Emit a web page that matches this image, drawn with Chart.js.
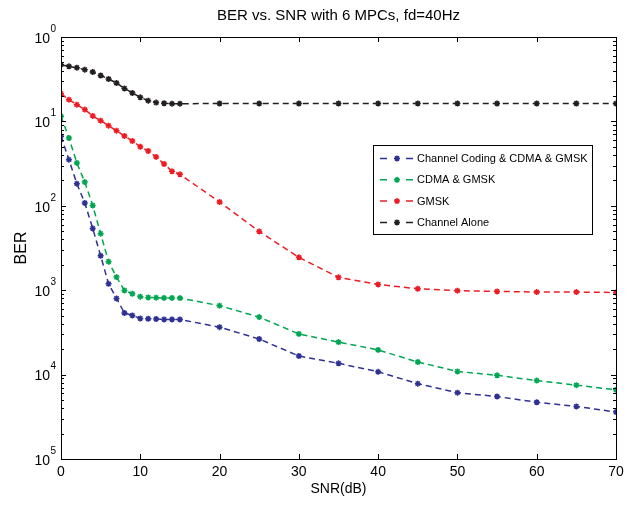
<!DOCTYPE html>
<html>
<head>
<meta charset="utf-8">
<script src="https://cdn.jsdelivr.net/npm/chart.js@4.4.0/dist/chart.umd.min.js"></script>
<style>
  html, body { margin: 0; padding: 0; background: #fff; }
  #caixa { width: 633px; height: 510px; }
</style>
</head>
<body>
<div id="caixa"><canvas id="grafico"></canvas></div>
<script>
// Dados (SNR em dB, BER)
const snr = [0, 1, 2, 3, 4, 5, 6, 7, 8, 9, 10, 11, 12, 13, 14, 15, 20, 25, 30, 35, 40, 45, 50, 55, 60, 65, 70];
const berCodCdmaGmsk = [0.0665, 0.0352, 0.0183, 0.0108, 0.0054, 0.00256, 0.00119, 0.0008, 0.000537, 0.000503, 0.000463, 0.000459, 0.000456, 0.000451, 0.00045, 0.00045,
  0.000365, 0.000264, 0.000166, 0.000136, 0.000108, 7.8e-5, 6.1e-5, 5.5e-5, 4.7e-5, 4.2e-5, 3.6e-5];
const berCdmaGmsk = [0.115, 0.0636, 0.0322, 0.0191, 0.0101, 0.00467, 0.00218, 0.00143, 0.000995, 0.000908, 0.000838, 0.000822, 0.000815, 0.00081, 0.00081, 0.000807,
  0.000655, 0.00048, 0.000303, 0.000243, 0.000196, 0.000141, 0.000109, 9.8e-5, 8.5e-5, 7.5e-5, 6.6e-5];
const berGmsk = [0.213, 0.181, 0.158, 0.138, 0.116, 0.102, 0.089, 0.0776, 0.0671, 0.0586, 0.0501, 0.0446, 0.0379, 0.0313, 0.0256, 0.0236,
  0.0111, 0.00497, 0.00245, 0.00142, 0.00117, 0.00104, 0.000986, 0.000968, 0.00095, 0.00095, 0.00094];
const berCanal = [0.47, 0.449, 0.433, 0.41, 0.385, 0.35, 0.318, 0.285, 0.246, 0.217, 0.193, 0.176, 0.167, 0.164, 0.162, 0.162,
  0.163, 0.163, 0.163, 0.163, 0.163, 0.163, 0.163, 0.163, 0.163, 0.163, 0.163];

const rotulosSerie = ["Channel Coding & CDMA & GMSK", "CDMA & GMSK", "GMSK", "Channel Alone"];
const coresSerie = ["#2e3192", "#00a651", "#ed1c24", "#231f20"];
const decadas = [1, 0.1, 0.01, 0.001, 0.0001, 0.00001];
const expoentes = ["0", "1", "2", "3", "4", "5"];
const titulo = "BER vs. SNR with 6 MPCs, fd=40Hz";

const FONTE = "'Liberation Sans', Arial, sans-serif";
Chart.defaults.font.family = FONTE;
Chart.defaults.color = "#000";

function pontos(valores) {
  return snr.map((x, i) => ({ x: x, y: valores[i] }));
}

// Moldura com marcas internas, título, rótulos 10^n e legenda
const moldura = {
  id: "moldura",
  afterDraw(chart) {
    const ctx = chart.ctx;
    const a = chart.chartArea;
    const sx = chart.scales.x;
    const sy = chart.scales.y;
    ctx.save();
    ctx.strokeStyle = "#000";
    ctx.lineWidth = 1;
    ctx.setLineDash([]);
    ctx.strokeRect(Math.round(a.left) + 0.5, Math.round(a.top) + 0.5, Math.round(a.right - a.left), Math.round(a.bottom - a.top));

    ctx.beginPath();
    for (let v = 0; v <= 70; v += 10) {
      const px = Math.round(sx.getPixelForValue(v)) + 0.5;
      ctx.moveTo(px, a.bottom); ctx.lineTo(px, a.bottom - 5);
      ctx.moveTo(px, a.top); ctx.lineTo(px, a.top + 5);
    }
    for (let e = -5; e <= 0; e++) {
      for (let m = 1; m <= 9; m++) {
        const v = m * Math.pow(10, e);
        if (v > 1) break;
        const py = Math.round(sy.getPixelForValue(v)) + 0.5;
        const len = m === 1 ? 5 : 3;
        ctx.moveTo(a.left, py); ctx.lineTo(a.left + len, py);
        ctx.moveTo(a.right, py); ctx.lineTo(a.right - len, py);
      }
    }
    ctx.stroke();

    // título centrado sobre a área do gráfico
    ctx.fillStyle = "#000";
    ctx.font = "15px " + FONTE;
    ctx.textAlign = "center";
    ctx.textBaseline = "middle";
    ctx.fillText(titulo, (a.left + a.right) / 2, 16);

    // rótulos do eixo y
    decadas.forEach((v, i) => {
      const py = sy.getPixelForValue(v);
      ctx.font = "14px " + FONTE;
      ctx.textAlign = "right";
      ctx.textBaseline = "middle";
      ctx.fillText("10", 50, py + 2);
      ctx.font = "10px " + FONTE;
      ctx.textAlign = "left";
      ctx.fillText(expoentes[i], 50.5, py - 8);
    });

    // legenda
    const lx = 373, ly = 145, lw = 219, lh = 89;
    ctx.fillStyle = "#fff";
    ctx.fillRect(lx, ly, lw, lh);
    ctx.strokeStyle = "#000";
    ctx.strokeRect(lx + 0.5, ly + 0.5, lw, lh);
    ctx.font = "11px " + FONTE;
    ctx.textAlign = "left";
    ctx.textBaseline = "middle";
    rotulosSerie.forEach((t, i) => {
      const yy = ly + 13.5 + i * 21.3;
      ctx.strokeStyle = coresSerie[i];
      ctx.lineWidth = 1.5;
      ctx.beginPath();
      ctx.moveTo(380, yy); ctx.lineTo(387, yy);
      ctx.moveTo(406, yy); ctx.lineTo(413, yy);
      ctx.stroke();
      Chart.helpers.drawPoint(ctx, { pointStyle: "star", radius: 3, borderWidth: 1.2 }, 397, yy);
      ctx.fillStyle = "#000";
      ctx.fillText(t, 417, yy + 0.5);
    });
    ctx.restore();
  }
};

const series = [berCodCdmaGmsk, berCdmaGmsk, berGmsk, berCanal];

new Chart(document.getElementById("grafico"), {
  type: "line",
  data: {
    datasets: series.map((s, i) => ({
      label: rotulosSerie[i],
      data: pontos(s),
      borderColor: coresSerie[i],
      backgroundColor: coresSerie[i],
      borderWidth: 1.5,
      borderDash: [6, 4],
      pointStyle: "star",
      pointRadius: 3,
      pointBorderWidth: 1.5,
      tension: 0,
      fill: false,
      order: 4 - i
    }))
  },
  options: {
    responsive: true,
    maintainAspectRatio: false,
    animation: false,
    layout: { padding: { left: 0, right: 17, top: 37, bottom: 0 } },
    plugins: {
      legend: { display: false },
      tooltip: { enabled: false },
      title: { display: false }
    },
    scales: {
      x: {
        type: "linear",
        min: 0,
        max: 70,
        grid: { display: false, drawTicks: false },
        border: { display: false },
        ticks: { stepSize: 10, color: "#000", font: { size: 14 }, padding: 5, maxRotation: 0 },
        title: { display: true, text: "SNR(dB)", color: "#000", font: { size: 14 }, padding: { top: 0, bottom: 12 } },
        afterFit: (s) => { s.height = 51; }
      },
      y: {
        type: "logarithmic",
        min: 0.00001,
        max: 1,
        grid: { display: false, drawTicks: false },
        border: { display: false },
        ticks: { display: false },
        title: { display: true, text: "BER", color: "#000", font: { size: 16 }, padding: { top: 12, bottom: 0 } },
        afterFit: (s) => { s.width = 61; }
      }
    }
  },
  plugins: [moldura]
});
</script>
</body>
</html>
